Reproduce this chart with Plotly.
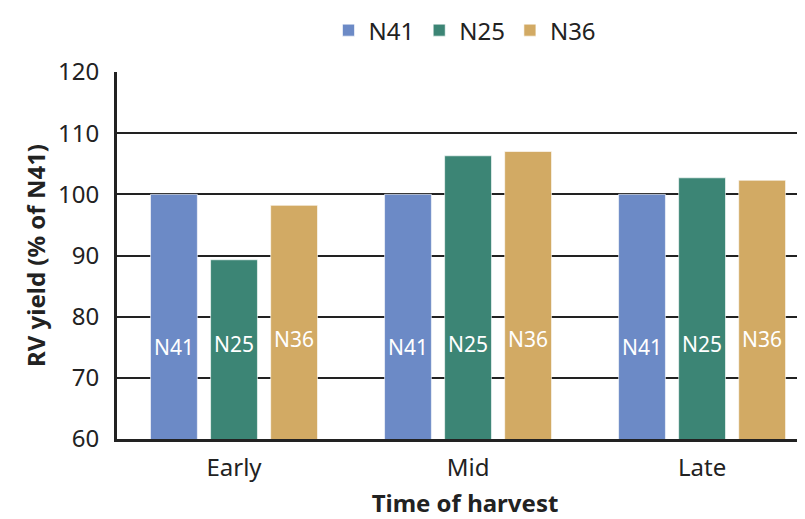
import plotly.graph_objects as go

categories = ["Early", "Mid", "Late"]
series_names = ["N41", "N25", "N36"]
n41 = [100, 100, 100]
n25 = [89.3, 106.3, 102.7]
n36 = [98.2, 107.0, 102.3]
y_ticks = [60, 70, 80, 90, 100, 110, 120]

colors = {"N41": "#6C8AC6", "N25": "#3C8575", "N36": "#D2AA64"}
values = {"N41": n41, "N25": n25, "N36": n36}

FONT = "Noto Sans"
fig = go.Figure()
for name in series_names:
    fig.add_trace(go.Bar(
        x=categories, y=values[name], name=name,
        marker=dict(color=colors[name], line=dict(color="rgba(255,255,255,0.6)", width=1)),
    ))

# in-bar labels
label_y = {"N41": 75.1, "N25": 75.5, "N36": 76.4}
shift = {"N41": -60, "N25": 0, "N36": 60}
for name in series_names:
    for c in categories:
        fig.add_annotation(x=c, y=label_y[name], text=name, showarrow=False,
                           xshift=shift[name], font=dict(family=FONT, size=21, color="white"))

fig.update_layout(
    width=805, height=519,
    margin=dict(l=109, r=0, t=58, b=88),
    plot_bgcolor="white", paper_bgcolor="white",
    barmode="group", bargap=0.23, bargroupgap=0.22,
    font=dict(family=FONT, size=23, color="#222222"),
    legend=dict(orientation="h", x=0.5, xanchor="center", y=1.113, yanchor="middle",
                yref="paper", font=dict(family=FONT, size=24, color="#222222"),
                itemwidth=30, traceorder="normal"),
    showlegend=True,
)
fig.update_xaxes(range=[-0.5, 2.474], showline=True, linecolor="#222222", linewidth=3,
                 ticks="", tickfont=dict(size=24), automargin=False, ticklabelstandoff=5,
                 title=dict(text="<b>Time of harvest</b>", font=dict(size=24), standoff=14))
fig.update_yaxes(range=[60, 120], tickvals=y_ticks, showgrid=True, gridcolor="#222222",
                 gridwidth=2, showline=True, linecolor="#222222", linewidth=3,
                 ticks="", tickfont=dict(size=24), zeroline=False, automargin=False,
                 ticklabelstandoff=10,
                 title=dict(text="<b>RV yield (% of N41)</b>", font=dict(size=24), standoff=6))
fig.write_html("out.html")
